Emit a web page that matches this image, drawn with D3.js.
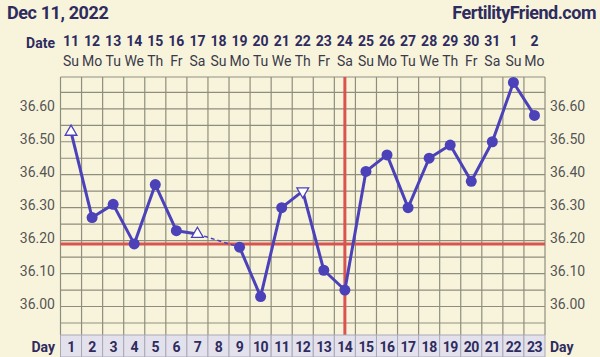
<!DOCTYPE html>
<html>
<head>
<meta charset="utf-8">
<title>Dec 11, 2022</title>
<script src="https://d3js.org/d3.v7.min.js"></script>
<style>
  body { margin: 0; background: #f8f4dc; }
  svg { display: block; font-family: Roboto, "Noto Sans", sans-serif; }
</style>
</head>
<body>
<svg width="600" height="357"></svg>
<script>
// chart data
var cycleDays = d3.range(1, 24);
var dates = ["11","12","13","14","15","16","17","18","19","20","21","22","23","24","25","26","27","28","29","30","31","1","2"];
var weekdays = ["Su","Mo","Tu","We","Th","Fr","Sa","Su","Mo","Tu","We","Th","Fr","Sa","Su","Mo","Tu","We","Th","Fr","Sa","Su","Mo"];
// null = no temperature that day
var temps = [36.53, 36.27, 36.31, 36.19, 36.37, 36.23, 36.22, null, 36.18, 36.03, 36.30, 36.35,
             36.11, 36.05, 36.41, 36.46, 36.30, 36.45, 36.49, 36.38, 36.50, 36.68, 36.58];
// "up" / "down" = open triangle, "dot" = normal
var markers = ["up","dot","dot","dot","dot","dot","up",null,"dot","dot","dot","down",
               "dot","dot","dot","dot","dot","dot","dot","dot","dot","dot","dot"];
var yTicks = [36.00, 36.10, 36.20, 36.30, 36.40, 36.50, 36.60];
var coverline = 36.19;
var ovulationDay = 14;

var svg = d3.select("svg");
var plotTop = 77, plotBottom = 335, plotLeft = 60.5, plotRight = 545;

var x = d3.scaleBand().domain(cycleDays).range([plotLeft, plotRight]);
var cx = function(d) { return x(d) + x.bandwidth() / 2; };
var y = d3.scaleLinear().domain([36.00, 36.60]).range([306.5, 108.8]);

var ink = "#2e2b5e", grid = "#8f8e7c", lineCol = "#4b41b8", red = "#d9534f";

// titles
svg.append("text").attr("x", 7).attr("y", 19).attr("font-size", 18).attr("font-weight", "bold")
  .attr("fill", ink).attr("letter-spacing", -0.4).text("Dec 11, 2022");
svg.append("text").attr("x", 596).attr("y", 19).attr("text-anchor", "end").attr("font-size", 18)
  .attr("font-weight", "bold").attr("fill", ink).attr("letter-spacing", -0.5).text("FertilityFriend.com");

// date header
svg.append("text").attr("x", 55).attr("y", 48).attr("text-anchor", "end").attr("font-size", 14)
  .attr("font-weight", "bold").attr("fill", ink).text("Date");
svg.append("g").selectAll("text").data(cycleDays).enter().append("text")
  .attr("x", cx).attr("y", 46).attr("text-anchor", "middle").attr("font-size", 14)
  .attr("font-weight", "bold").attr("fill", ink)
  .text(function(d, i) { return dates[i]; });
svg.append("g").selectAll("text").data(cycleDays).enter().append("text")
  .attr("x", cx).attr("y", 66).attr("text-anchor", "middle").attr("font-size", 14)
  .attr("fill", "#3a3a4a")
  .text(function(d, i) { return weekdays[i]; });

// grid
var g = svg.append("g");
var hLines = d3.range(35.95, 36.66, 0.05);
g.selectAll("line.h").data(hLines).enter().append("line")
  .attr("x1", plotLeft).attr("x2", plotRight)
  .attr("y1", function(d) { return y(d); }).attr("y2", function(d) { return y(d); })
  .attr("stroke", grid).attr("stroke-width", 1.2);
g.append("line").attr("x1", plotLeft).attr("x2", plotRight).attr("y1", plotTop).attr("y2", plotTop)
  .attr("stroke", grid).attr("stroke-width", 1.2);
g.selectAll("line.v").data(cycleDays.concat([24])).enter().append("line")
  .attr("x1", function(d) { return plotLeft + (d - 1) * x.bandwidth(); })
  .attr("x2", function(d) { return plotLeft + (d - 1) * x.bandwidth(); })
  .attr("y1", plotTop).attr("y2", plotBottom)
  .attr("stroke", grid).attr("stroke-width", 1.2);

// axis labels both sides
svg.append("g").selectAll("text").data(yTicks).enter().append("text")
  .attr("x", 55).attr("y", function(d) { return y(d) + 2; }).attr("text-anchor", "end")
  .attr("font-size", 14).attr("fill", "#555").text(function(d) { return d.toFixed(2); });
svg.append("g").selectAll("text").data(yTicks).enter().append("text")
  .attr("x", 550).attr("y", function(d) { return y(d) + 2; }).attr("text-anchor", "start")
  .attr("font-size", 14).attr("fill", "#555").text(function(d) { return d.toFixed(2); });

// coverline and ovulation line
svg.append("line").attr("x1", plotLeft).attr("x2", plotRight).attr("y1", y(coverline)).attr("y2", y(coverline))
  .attr("stroke", red).attr("stroke-width", 3);
svg.append("line").attr("x1", cx(ovulationDay)).attr("x2", cx(ovulationDay)).attr("y1", plotTop).attr("y2", plotBottom)
  .attr("stroke", red).attr("stroke-width", 3);

// temperature line: solid where consecutive, dashed across gaps
var pts = cycleDays.map(function(d, i) { return {day: d, t: temps[i], m: markers[i]}; })
  .filter(function(p) { return p.t != null; });
var segs = [];
for (var i = 1; i < pts.length; i++) segs.push([pts[i - 1], pts[i]]);
svg.append("g").selectAll("line").data(segs).enter().append("line")
  .attr("x1", function(s) { return cx(s[0].day); }).attr("y1", function(s) { return y(s[0].t); })
  .attr("x2", function(s) { return cx(s[1].day); }).attr("y2", function(s) { return y(s[1].t); })
  .attr("stroke", lineCol)
  .attr("stroke-width", function(s) { return s[1].day - s[0].day > 1 ? 1.5 : 3; })
  .attr("stroke-dasharray", function(s) { return s[1].day - s[0].day > 1 ? "4,3" : null; });

// markers
var mk = svg.append("g");
mk.selectAll("circle").data(pts.filter(function(p) { return p.m == "dot"; })).enter().append("circle")
  .attr("cx", function(p) { return cx(p.day); }).attr("cy", function(p) { return y(p.t); })
  .attr("r", 5.5).attr("fill", lineCol);
mk.selectAll("path").data(pts.filter(function(p) { return p.m == "up" || p.m == "down"; })).enter().append("path")
  .attr("transform", function(p) {
    return "translate(" + cx(p.day) + "," + y(p.t) + ")" + (p.m == "down" ? " rotate(180)" : "");
  })
  .attr("d", d3.symbol().type(d3.symbolTriangle).size(60))
  .attr("fill", "#fff").attr("stroke", lineCol).attr("stroke-width", 1.3);

// day row
var dr = svg.append("g");
dr.selectAll("rect").data(cycleDays).enter().append("rect")
  .attr("x", function(d) { return x(d); }).attr("y", plotBottom).attr("width", x.bandwidth()).attr("height", 22)
  .attr("fill", "#e3e2ec").attr("stroke", "#a9a8b8").attr("stroke-width", 1);
dr.selectAll("text").data(cycleDays).enter().append("text")
  .attr("x", cx).attr("y", 352).attr("text-anchor", "middle").attr("font-size", 14)
  .attr("font-weight", "bold").attr("fill", ink).attr("letter-spacing", -0.5).text(function(d) { return d; });
svg.append("text").attr("x", 55).attr("y", 352).attr("text-anchor", "end").attr("font-size", 14)
  .attr("font-weight", "bold").attr("fill", ink).text("Day");
svg.append("text").attr("x", 550).attr("y", 352).attr("font-size", 14)
  .attr("font-weight", "bold").attr("fill", ink).text("Day");
</script>
</body>
</html>
